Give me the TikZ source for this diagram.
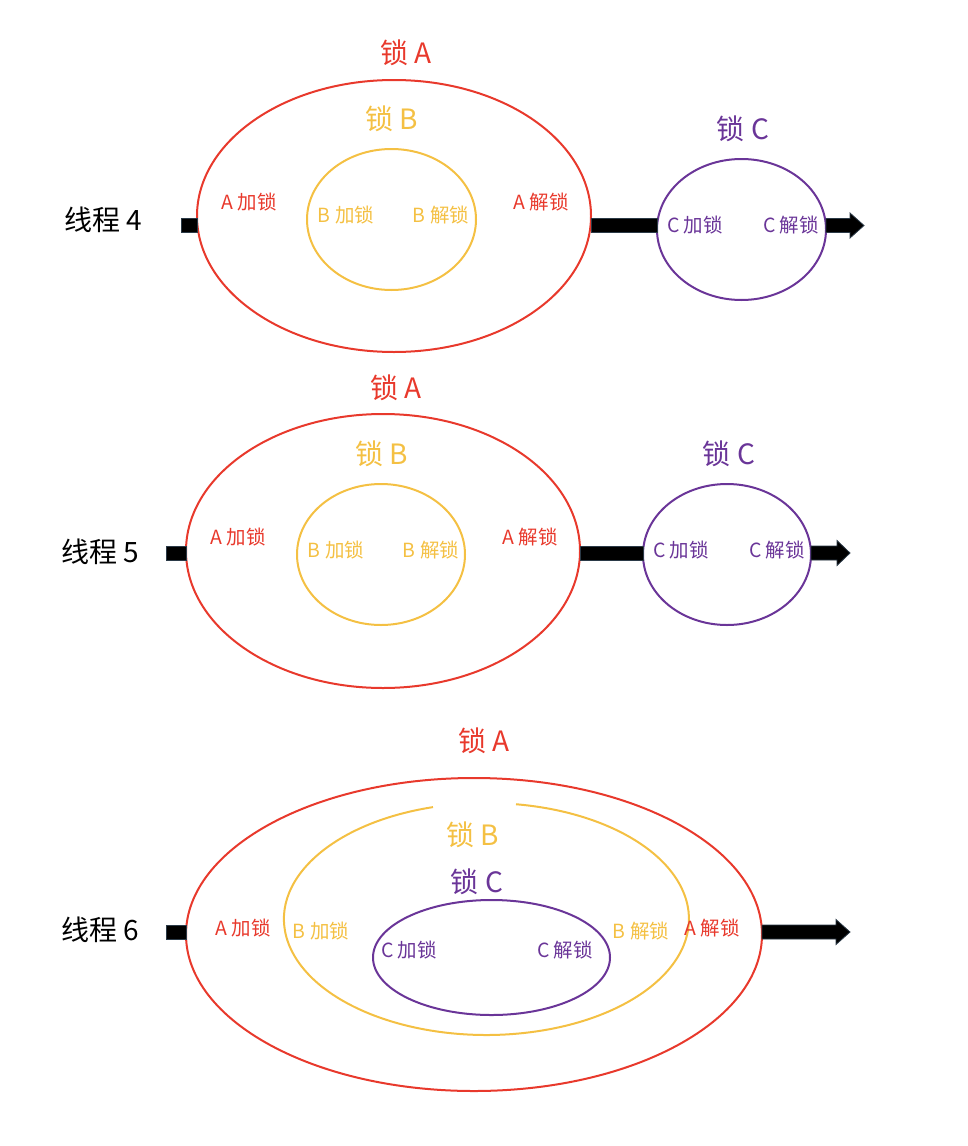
\documentclass[tikz,border=0pt]{standalone}
\usepackage{fontspec}
\setmainfont{Noto Sans CJK SC}
\usetikzlibrary{shapes.geometric,calc}
\definecolor{lockred}{HTML}{E8392C}
\definecolor{lockyellow}{HTML}{F4C043}
\definecolor{lockpurple}{HTML}{6A3598}
\definecolor{baredge}{HTML}{2B3A47}
\newcommand{\fatbar}[2]{\filldraw[barstyle] ($(#1)+(0,-7)$) rectangle ($(#2)+(0,7)$);}
\newcommand{\fatarrow}[3]{\filldraw[barstyle] ($(#1)+(0,-7)$) -- ($(#2)+(-#3,-7)$) -- ($(#2)+(-#3,-12.5)$) -- (#2) -- ($(#2)+(-#3,12.5)$) -- ($(#2)+(-#3,7)$) -- ($(#1)+(0,7)$) -- cycle;}
\begin{document}
\begin{tikzpicture}[x=1pt,y=-1pt,
  ell/.style={ellipse,inner sep=0pt,outer sep=0pt,line width=2pt},
  lockA/.style={ell,draw=lockred},
  lockB/.style={ell,draw=lockyellow},
  lockC/.style={ell,draw=lockpurple},
  barstyle/.style={fill=black,draw=baredge,line width=0.8pt},
  big/.style={inner sep=0pt,font=\fontsize{28}{33}\selectfont},
  small/.style={inner sep=0pt,font=\fontsize{19.5}{23}\selectfont},
  red/.style={text=lockred},
  yel/.style={text=lockyellow},
  pur/.style={text=lockpurple}]
\useasboundingbox (0,0) rectangle (968,1146);

% ---------- Thread 4 ----------
\node[lockA,minimum width=394pt,minimum height=272pt] (a4) at (394,216) {};
\node[lockB,minimum width=169pt,minimum height=141pt] (b4) at (391.5,219.5) {};
\node[lockC,minimum width=169pt,minimum height=141pt] (c4) at (741.5,229.5) {};
\coordinate (s4) at (181,225.5);
\coordinate (t4) at (864,225.5);
\fatbar{s4}{a4.west |- s4}
\fatbar{a4.east |- s4}{c4.west |- s4}
\fatarrow{c4.east |- s4}{t4}{14}
\node[big] (th4) at (103,220) {线程 4};
\node[big,red] (la4) at (406,53) {锁 A};
\node[big,yel] (lb4) at (392,119) {锁 B};
\node[big,pur] (lc4) at (743,129) {锁 C};
\node[small,red] (al4) at (249,202) {A 加锁};
\node[small,yel] (bl4) at (346,215) {B 加锁};
\node[small,yel] (bu4) at (441,215) {B 解锁};
\node[small,red] (au4) at (541,202) {A 解锁};
\node[small,pur] (cl4) at (695,225) {C 加锁};
\node[small,pur] (cu4) at (791,225) {C 解锁};

% ---------- Thread 5 ----------
\node[lockA,minimum width=394pt,minimum height=274pt] (a5) at (383,551) {};
\node[lockB,minimum width=168pt,minimum height=141pt] (b5) at (381,554.5) {};
\node[lockC,minimum width=168pt,minimum height=141pt] (c5) at (727,554.5) {};
\coordinate (s5) at (166,553);
\coordinate (t5) at (850,553);
\fatbar{s5}{a5.west |- s5}
\fatbar{a5.east |- s5}{c5.west |- s5}
\fatarrow{c5.east |- s5}{t5}{13}
\node[big] (th5) at (100,552) {线程 5};
\node[big,red] (la5) at (396,388) {锁 A};
\node[big,yel] (lb5) at (382,454) {锁 B};
\node[big,pur] (lc5) at (729,454) {锁 C};
\node[small,red] (al5) at (238,537) {A 加锁};
\node[small,yel] (bl5) at (336,550) {B 加锁};
\node[small,yel] (bu5) at (431,550) {B 解锁};
\node[small,red] (au5) at (530,537) {A 解锁};
\node[small,pur] (cl5) at (681,550) {C 加锁};
\node[small,pur] (cu5) at (777,550) {C 解锁};

% ---------- Thread 6 ----------
\node[lockA,minimum width=576pt,minimum height=313pt] (a6) at (474,934.5) {};
\node[ell,minimum width=405pt,minimum height=232pt] (b6) at (486.5,919) {};
\draw[lockyellow,line width=2pt] (433,807.1) arc[start angle=105.3,end angle=441.6,x radius=202.5pt,y radius=116pt];
\node[lockC,minimum width=237pt,minimum height=115pt] (c6) at (491.5,957.5) {};
\coordinate (s6) at (166,932);
\coordinate (t6) at (850,932);
\fatbar{s6}{a6.west |- s6}
\fatarrow{a6.east |- s6}{t6}{14}
\node[big] (th6) at (100,930) {线程 6};
\node[big,red] (la6) at (484,741) {锁 A};
\node[big,yel] (lb6) at (473,835) {锁 B};
\node[big,pur] (lc6) at (477,882) {锁 C};
\node[small,red] (al6) at (243,928) {A 加锁};
\node[small,yel] (bl6) at (321,931) {B 加锁};
\node[small,pur] (cl6) at (409,950) {C 加锁};
\node[small,pur] (cu6) at (565,950) {C 解锁};
\node[small,yel] (bu6) at (641,931) {B 解锁};
\node[small,red] (au6) at (712,928) {A 解锁};
\end{tikzpicture}
\end{document}
